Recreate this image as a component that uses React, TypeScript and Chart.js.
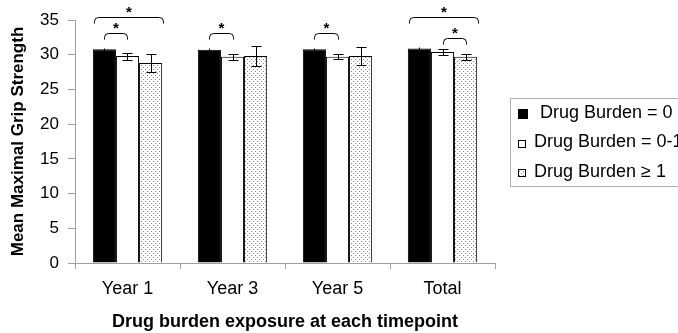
import React, { useEffect, useRef } from 'react';
import { Chart, registerables } from 'chart.js';

Chart.register(...registerables);

const categories = ['Year 1', 'Year 3', 'Year 5', 'Total'];
const seriesLabels = ['Drug Burden = 0', 'Drug Burden = 0-1', 'Drug Burden \u2265 1'];
const burden0 = [30.8, 30.7, 30.8, 30.9];
const burden0Err = [0.2, 0.2, 0.2, 0.2];
const burden01 = [29.8, 29.7, 29.7, 30.4];
const burden01Err = [0.5, 0.45, 0.35, 0.4];
const burden1 = [28.8, 29.8, 29.8, 29.7];
const burden1Err = [1.3, 1.45, 1.3, 0.4];
const yMin = 0;
const yMax = 35;
const yStep = 5;
const yTitle = 'Mean Maximal Grip Strength';
const xTitle = 'Drug burden exposure at each timepoint';
// significance brackets
const sigCategory = [0, 0, 1, 2, 3, 3];
const sigFrom = [0, 0, 0, 0, 0, 1];
const sigTo = [2, 1, 1, 1, 2, 2];
const sigLevel = [35.4, 33.1, 33.1, 33.1, 35.4, 32.4];

const FONT = '"Liberation Sans", Arial, sans-serif';

function makePattern(): CanvasPattern | string {
  const c = document.createElement('canvas');
  c.width = 4;
  c.height = 4;
  const g = c.getContext('2d');
  if (!g) return '#eee';
  g.fillStyle = '#ffffff';
  g.fillRect(0, 0, 4, 4);
  g.fillStyle = '#8a8a8a';
  g.fillRect(1, 1, 1, 1);
  g.fillRect(3, 3, 1, 1);
  const p = g.createPattern(c, 'repeat');
  return p || '#eee';
}

export default function App() {
  const ref = useRef<HTMLCanvasElement | null>(null);

  useEffect(() => {
    const canvas = ref.current;
    if (!canvas) return;
    const pattern = makePattern();
    const errs = [burden0Err, burden01Err, burden1Err];
    const capHalf = [0, 5, 5];

    const errorPlugin = {
      id: 'errorBars',
      afterDatasetsDraw(chart: any) {
        const ctx = chart.ctx;
        const ys = chart.scales.y;
        ctx.save();
        ctx.strokeStyle = '#000';
        ctx.lineWidth = 1;
        chart.data.datasets.forEach((ds: any, d: number) => {
          const meta = chart.getDatasetMeta(d);
          meta.data.forEach((bar: any, i: number) => {
            const v = ds.data[i];
            const e = errs[d][i];
            const x = Math.round(bar.x) + 0.5;
            const yt = Math.round(ys.getPixelForValue(v + e)) + 0.5;
            const yb = Math.round(ys.getPixelForValue(v - e)) + 0.5;
            ctx.beginPath();
            ctx.moveTo(x, yt);
            ctx.lineTo(x, yb);
            if (capHalf[d] > 0) {
              ctx.moveTo(x - capHalf[d], yt);
              ctx.lineTo(x + capHalf[d], yt);
              ctx.moveTo(x - capHalf[d], yb);
              ctx.lineTo(x + capHalf[d], yb);
            }
            ctx.stroke();
          });
        });
        ctx.restore();
      },
    };

    const bracketPlugin = {
      id: 'brackets',
      afterDraw(chart: any) {
        const ctx = chart.ctx;
        const ys = chart.scales.y;
        ctx.save();
        ctx.strokeStyle = '#000';
        ctx.lineWidth = 1;
        ctx.fillStyle = '#000';
        for (let k = 0; k < sigCategory.length; k++) {
          const c = sigCategory[k];
          const a = chart.getDatasetMeta(sigFrom[k]).data[c];
          const b = chart.getDatasetMeta(sigTo[k]).data[c];
          const wide = sigTo[k] - sigFrom[k] >= 2;
          const x1 = Math.round(a.x - (wide ? a.width / 2 - 1 : 0)) + 0.5;
          const x2 = Math.round(b.x + (wide ? b.width / 2 + 1 : 0)) + 0.5;
          const y = Math.round(ys.getPixelForValue(sigLevel[k])) + 0.5;
          const r = 4;
          ctx.beginPath();
          ctx.moveTo(x1, y + 6);
          ctx.arcTo(x1, y, x1 + r, y, r);
          ctx.lineTo(x2 - r, y);
          ctx.arcTo(x2, y, x2, y + r, r);
          ctx.lineTo(x2, y + 6);
          ctx.stroke();
          ctx.font = `bold 15px ${FONT}`;
          ctx.textAlign = 'center';
          ctx.textBaseline = 'middle';
          ctx.fillText('*', (x1 + x2) / 2, y - 5);
        }
        ctx.restore();
      },
    };

    const legendPlugin = {
      id: 'boxLegend',
      afterDraw(chart: any) {
        const ctx = chart.ctx;
        ctx.save();
        ctx.strokeStyle = '#b0b0b0';
        ctx.lineWidth = 1;
        ctx.strokeRect(510.5, 98.5, 220, 88);
        ctx.font = `18px ${FONT}`;
        ctx.textAlign = 'left';
        ctx.textBaseline = 'middle';
        chart.data.datasets.forEach((ds: any, d: number) => {
          const cy = 113 + d * 29.5;
          const s = d === 0 ? 10 : 8;
          const bx = 518;
          const by = Math.round(cy - s / 2 + 1);
          ctx.fillStyle = ds.backgroundColor;
          ctx.fillRect(bx, by, s, s);
          ctx.strokeStyle = '#000';
          ctx.strokeRect(bx + 0.5, by + 0.5, s - 1, s - 1);
          ctx.fillStyle = '#000';
          ctx.fillText(ds.label, d === 0 ? 540 : 534, cy);
        });
        ctx.restore();
      },
    };

    const chart = new Chart(canvas, {
      type: 'bar',
      data: {
        labels: categories,
        datasets: [
          { label: seriesLabels[0], data: burden0, backgroundColor: '#000000', borderColor: '#000', borderWidth: 1 },
          { label: seriesLabels[1], data: burden01, backgroundColor: '#ffffff', borderColor: '#000', borderWidth: 1 },
          { label: seriesLabels[2], data: burden1, backgroundColor: pattern as any, borderColor: '#000', borderWidth: 1 },
        ],
      },
      options: {
        responsive: false,
        animation: false,
        devicePixelRatio: 1,
        layout: { padding: { top: 20, right: 183, left: 0, bottom: 0 } },
        datasets: { bar: { barPercentage: 1, categoryPercentage: 0.66 } },
        plugins: {
          legend: { display: false },
          tooltip: { enabled: false },
        },
        scales: {
          x: {
            afterFit: (s: any) => { s.height = 70; },
            grid: { display: true, drawOnChartArea: false, drawTicks: true, tickLength: 6, color: '#a0a0a0', offset: true },
            border: { display: true, color: '#a0a0a0' },
            ticks: { color: '#000', font: { size: 18, family: FONT }, padding: 9 },
            title: {
              display: true,
              text: xTitle,
              color: '#000',
              font: { size: 18, weight: 'bold', family: FONT },
              padding: { top: 0, bottom: 0 },
            },
          },
          y: {
            min: yMin,
            max: yMax,
            afterFit: (s: any) => { s.width = 75; },
            grid: { display: true, drawOnChartArea: false, drawTicks: true, tickLength: 7, color: '#a0a0a0' },
            border: { display: true, color: '#a0a0a0' },
            ticks: { stepSize: yStep, color: '#000', font: { size: 17, family: FONT }, padding: 9 },
            title: {
              display: true,
              text: yTitle,
              color: '#000',
              font: { size: 17, weight: 'bold', family: FONT },
              padding: { top: 8, bottom: 0 },
            },
          },
        },
      },
      plugins: [errorPlugin, bracketPlugin, legendPlugin],
    } as any);

    return () => chart.destroy();
  }, []);

  return (
    <div style={{ position: 'absolute', left: 0, top: 0, width: 678, height: 333, overflow: 'hidden', background: '#fff' }}>
      <canvas ref={ref} width={678} height={333} style={{ display: 'block' }} />
    </div>
  );
}
